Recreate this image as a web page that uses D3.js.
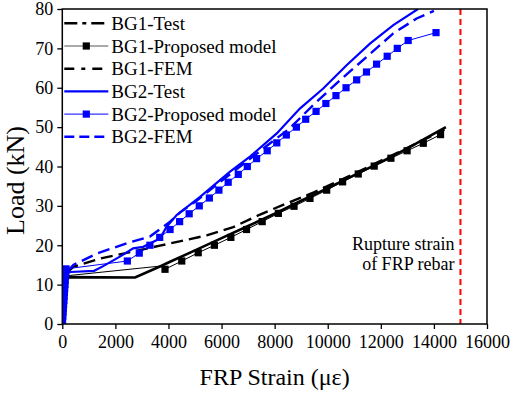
<!DOCTYPE html>
<html>
<head>
<meta charset="utf-8">
<script src="https://cdn.jsdelivr.net/npm/d3@7"></script>
<style>
    body { margin: 0; background: #fff; }
    text { font-family: "Liberation Serif", "Times New Roman", serif; fill: #000; }
</style>
</head>
<body>
<div id="chart"></div>
<script>

// values: [strain (με), load (kN)]
const bg1Test = [[0,0],[40,6],[80,11.6],[150,11.9],[2740,11.8],[3680,14.6],[4060,15.8],[5000,18.7],
    [6000,21.8],[7000,24.9],[8000,28],[9000,31.3],[10000,34.5],[11000,37.8],[12000,41.1],[13000,44.6],[14450,50]];

const bg1Model = [[0,0],[60,7],[100,12.2],[3680,14.7],[3870,13.9],[4500,16],[5120,18.1],[5730,20],[6350,22],[6940,24],
    [7530,26],[8140,28.1],[8730,29.9],[9330,31.9],[9960,34],[10560,36.1],[11150,38.1],[11750,40.1],
    [12380,42.1],[12990,44],[13600,45.9],[14250,48.1]];

const bg1Fem = [[0,0],[40,6],[80,12.5],[415,14.5],[1420,16.6],[2670,18.4],[3680,19.9],[4560,21.2],
    [5440,22.5],[6440,24.6],[7450,27.8],[8400,30.5],[9500,33.5],[10500,36.6],[11500,39.8],
    [12500,43.1],[13500,46.4],[14400,49.4]];

const bg2Test = [[0,0],[40,6],[80,12.5],[300,13.2],[1200,13.5],[1540,14.7],[2170,17.1],[2670,19.2],[3050,19.6],
    [3430,20.9],[3680,21.7],[3930,24.7],[4310,27.7],[5190,32.3],[6320,38.7],[7070,42.5],[8080,48.4],
    [8950,54.7],[9830,59.8],[10710,65.7],[11590,71.2],[12470,75.9],[13400,80]];

const bg2Model = [[0,0],[10,1],[20,2],[30,3],[40,4],[50,5],[60,6],[70,7],[80,8],[90,9],[100,10],
    [110,11],[120,12],[130,13],[140,14],[2450,16],[2900,18],[3300,20],[3670,22],[4060,24],[4420,26],
    [4780,28],[5160,30],[5540,32],[5900,34],[6250,36],[6630,38],[6970,40],[7320,42],[7720,44],
    [8080,46],[8440,48],[8820,50],[9170,52],[9560,54],[9930,56],[10310,58],[10690,60],[11090,62],
    [11460,64],[11840,66],[12240,68],[12620,70],[13030,72],[14080,74]];

const bg2Fem = [[0,0],[40,6],[80,12.5],[415,15],[1300,17.9],[2430,20.5],[3300,22.2],[4060,26],
    [4430,28.3],[5060,31.3],[5800,35.3],[6600,39.5],[7500,44.2],[8570,49.7],[9450,55.6],[10460,61.9],
    [11460,67.8],[12470,73.8],[13350,77.6],[14000,79.5]];

const ruptureStrain = 15000;
const xTicks = [0,2000,4000,6000,8000,10000,12000,14000,16000];
const yTicks = [0,10,20,30,40,50,60,70,80];
const legendLabels = ["BG1-Test","BG1-Proposed model","BG1-FEM","BG2-Test","BG2-Proposed model","BG2-FEM"];


class StrainChart {
    constructor(parentElement) {
        this.parentElement = parentElement;
        this.initVis();
    }

    initVis() {
        let vis = this;

        vis.margin = {top: 9, right: 25, bottom: 69, left: 62.3};
        vis.width = 512 - vis.margin.left - vis.margin.right;
        vis.height = 393 - vis.margin.top - vis.margin.bottom;

        vis.svg = d3.select("#" + vis.parentElement).append("svg")
            .attr("width", 512)
            .attr("height", 393)
            .append("g")
            .attr("transform", "translate(" + vis.margin.left + "," + vis.margin.top + ")");

        vis.x = d3.scaleLinear().domain([0, 16000]).range([0, vis.width]);
        vis.y = d3.scaleLinear().domain([0, 80]).range([vis.height, 0]);

        vis.svg.append("clipPath").attr("id", "plotclip")
            .append("rect")
            .attr("width", vis.width)
            .attr("height", vis.height);

        vis.updateVis();
    }

    updateVis() {
        let vis = this;
        const serif = "Liberation Serif, Times New Roman, serif";

        // axes
        let xAxis = d3.axisBottom(vis.x).tickValues(xTicks).tickFormat(d3.format("d"))
            .tickSize(5).tickSizeOuter(0).tickPadding(6);
        let yAxis = d3.axisLeft(vis.y).tickValues(yTicks).tickFormat(d3.format("d"))
            .tickSize(5).tickSizeOuter(0).tickPadding(4);

        vis.svg.append("g")
            .attr("transform", "translate(0," + vis.height + ")")
            .call(xAxis)
            .attr("font-family", serif).attr("font-size", 18);
        vis.svg.append("g")
            .call(yAxis)
            .attr("font-family", serif).attr("font-size", 18);
        vis.svg.selectAll(".domain").remove();
        vis.svg.selectAll(".tick line").attr("stroke-width", 1.3);

        let line = d3.line().x(d => vis.x(d[0])).y(d => vis.y(d[1]));
        let plot = vis.svg.append("g").attr("clip-path", "url(#plotclip)");

        // BG1 curves
        plot.append("path").datum(bg1Model).attr("d", line)
            .attr("fill", "none").attr("stroke", "#000").attr("stroke-width", 1);
        plot.append("path").datum(bg1Fem).attr("d", line)
            .attr("fill", "none").attr("stroke", "#000").attr("stroke-width", 2.4)
            .attr("stroke-dasharray", "12,6");
        plot.append("path").datum(bg1Test).attr("d", line)
            .attr("fill", "none").attr("stroke", "#000").attr("stroke-width", 2.6);
        plot.selectAll(".m1").data(bg1Model.slice(4)).enter().append("rect")
            .attr("class", "m1")
            .attr("x", d => vis.x(d[0]) - 3.6).attr("y", d => vis.y(d[1]) - 3.6)
            .attr("width", 7.2).attr("height", 7.2).attr("fill", "#000");

        // BG2 curves
        plot.append("path").datum(bg2Model).attr("d", line)
            .attr("fill", "none").attr("stroke", "#0000ff").attr("stroke-width", 1);
        plot.append("path").datum(bg2Fem).attr("d", line)
            .attr("fill", "none").attr("stroke", "#0000ff").attr("stroke-width", 2.4)
            .attr("stroke-dasharray", "12,6");
        plot.append("path").datum(bg2Test).attr("d", line)
            .attr("fill", "none").attr("stroke", "#0000ff").attr("stroke-width", 2.2);
        plot.selectAll(".m2").data(bg2Model).enter().append("rect")
            .attr("class", "m2")
            .attr("x", d => vis.x(d[0]) - 3.6).attr("y", d => vis.y(d[1]) - 3.6)
            .attr("width", 7.2).attr("height", 7.2).attr("fill", "#0000ff");

        // rupture strain
        vis.svg.append("line")
            .attr("x1", vis.x(ruptureStrain)).attr("x2", vis.x(ruptureStrain))
            .attr("y1", 0).attr("y2", vis.height)
            .attr("stroke", "#ff0000").attr("stroke-width", 2)
            .attr("stroke-dasharray", "6,4");
        let note = vis.svg.append("text")
            .attr("text-anchor", "end")
            .style("font-family", serif)
            .style("font-size", "18px");
        note.append("tspan").attr("x", vis.x(ruptureStrain) - 6).attr("y", 241).text("Rupture strain");
        note.append("tspan").attr("x", vis.x(ruptureStrain) - 6).attr("y", 261).text("of FRP rebar");

        // frame
        vis.svg.append("rect")
            .attr("width", vis.width).attr("height", vis.height)
            .attr("fill", "none").attr("stroke", "#000").attr("stroke-width", 1.5);

        // legend
        let legendStyles = [
            {color: "#000", width: 2.6, dash: "13,5,4,5", mark: false},
            {color: "#555", width: 1, dash: null, mark: "#000"},
            {color: "#000", width: 2.6, dash: "10,7,4,7", mark: false},
            {color: "#0000ff", width: 2.2, dash: null, mark: false},
            {color: "#0000ff", width: 1, dash: null, mark: "#0000ff"},
            {color: "#0000ff", width: 2.4, dash: "10,5", mark: false}
        ];
        let legend = vis.svg.append("g").attr("transform", "translate(2,14.3)");
        legendLabels.forEach(function(label, i) {
            let row = legend.append("g").attr("transform", "translate(0," + (i * 22.7) + ")");
            let s = legendStyles[i];
            row.append("line").attr("x1", 0).attr("x2", 44).attr("y1", 0).attr("y2", 0)
                .attr("stroke", s.color).attr("stroke-width", s.width)
                .attr("stroke-dasharray", s.dash);
            if (s.mark) {
                row.append("rect").attr("x", 22 - 3.6).attr("y", -3.6)
                    .attr("width", 7.2).attr("height", 7.2).attr("fill", s.mark);
            }
            row.append("text").attr("x", 47).attr("y", 6.5)
                .style("font-family", serif)
                .style("font-size", "19px").text(label);
        });

        // axis titles
        vis.svg.append("text")
            .attr("x", vis.width / 2)
            .attr("y", vis.height + 61)
            .attr("text-anchor", "middle")
            .style("font-family", serif)
            .style("font-size", "24px")
            .text("FRP Strain (\u03bc\u03b5)");
        vis.svg.append("text")
            .attr("transform", "translate(" + (-38.5) + "," + (vis.height / 2 + 14) + ") rotate(-90)")
            .attr("text-anchor", "middle")
            .style("font-family", serif)
            .style("font-size", "26px")
            .text("Load (kN)");
    }
}

new StrainChart("chart");

</script>
</body>
</html>
